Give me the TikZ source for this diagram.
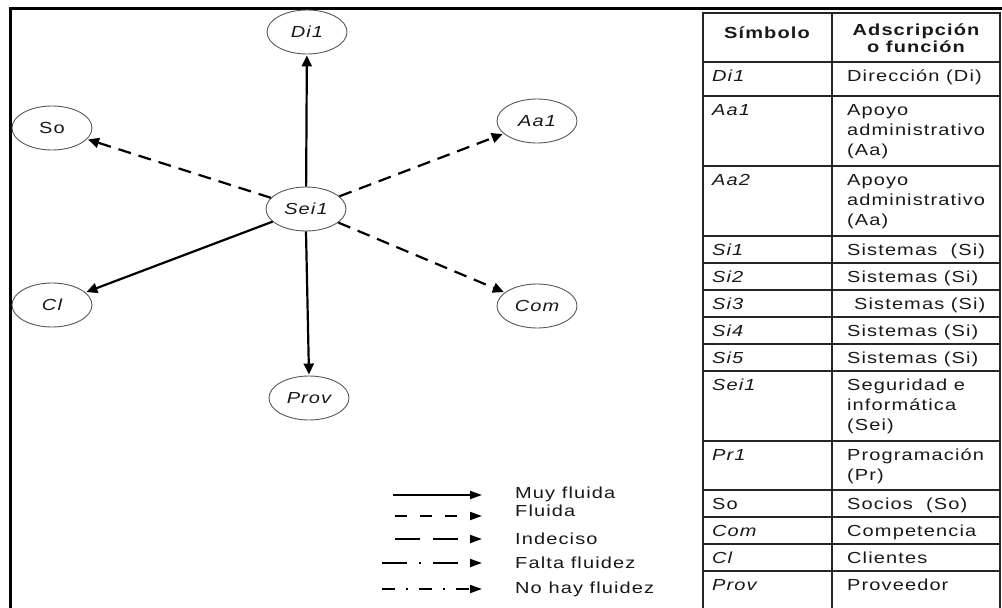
\documentclass[tikz,border=0pt]{standalone}
\usepackage{fontspec}
\setmainfont{Liberation Sans}[FakeStretch=1.25,LetterSpace=7]
\usetikzlibrary{arrows.meta,shapes.geometric}
\newcommand{\stt}{\rule{0pt}{12pt}}
\begin{document}
\begin{tikzpicture}[x=1pt,y=-1pt,
  txt/.style={font=\fontsize{16}{20}\selectfont, inner sep=0pt, text=black!90},
  ell/.style={ellipse, draw=black!65, line width=0.9pt, minimum width=80pt, minimum height=44pt, inner sep=0pt, font=\fontsize{16}{18}\selectfont\itshape, text=black!90},
  flow/.style={line width=2.2pt, black, -{Triangle[length=11pt,width=10pt]}, shorten >=1pt},
  fdash/.style={flow, dash pattern=on 13pt off 8pt},
  leg/.style={line width=1.8pt, black, -{Triangle[length=12pt,width=8pt]}},
  tab/.style={line width=1.2pt, black!85},
  sym/.style={txt, anchor=north west, font=\fontsize{16}{20}\selectfont\itshape},
  dsc/.style={txt, anchor=north west, align=left},
  lab/.style={txt, anchor=west}
]
\useasboundingbox (0,0) rectangle (1002,608);
\fill[white] (0,0) rectangle (1002,608);
% outer frame
\draw[line width=3pt, line join=miter] (10,608) -- (10,8) -- (1002,8);

% diagram nodes
\node[ell] (di)   at (307,32)  {Di1};
\node[ell, font=\fontsize{16}{18}\selectfont] (so) at (52,128) {So};
\node[ell] (aa)   at (537,121) {Aa1};
\node[ell] (sei)  at (306,209) {Sei1};
\node[ell] (cl)   at (52,305)  {Cl};
\node[ell] (com)  at (537,306) {Com};
\node[ell] (prov) at (309,398) {Prov};

\draw[flow]  (sei) -- (di);
\draw[fdash] (sei) -- (so);
\draw[fdash] (sei) -- (aa);
\draw[fdash] (sei) -- (com);
\draw[flow]  (sei) -- (cl);
\draw[flow]  (sei.south) -- (prov.north);

% legend
\coordinate (l1a) at (393,495); \coordinate (l1b) at (482,495);
\coordinate (l2a) at (395,516); \coordinate (l2b) at (482,516);
\coordinate (l3a) at (395,539); \coordinate (l3b) at (482,539);
\coordinate (l4a) at (382,563); \coordinate (l4b) at (482,563);
\coordinate (l5a) at (382,589); \coordinate (l5b) at (482,589);
\draw[leg] (l1a) -- (l1b);
\draw[leg, dash pattern=on 12pt off 13pt] (l2a) -- (l2b);
\draw[leg, dash pattern=on 25pt off 13pt] (l3a) -- (l3b);
\draw[leg, dash pattern=on 25pt off 12pt on 2pt off 12pt] (l4a) -- (l4b);
\draw[leg, dash pattern=on 13pt off 11pt on 2pt off 11pt] (l5a) -- (l5b);
\node[lab] (t1) at (515,494) {Muy fluida};
\node[lab] (t2) at (515,511) {Fluida};
\node[lab] (t3) at (515,539) {Indeciso};
\node[lab] (t4) at (515,563) {Falta fluidez};
\node[lab] (t5) at (515,589) {No hay fluidez};

% table grid
\draw[tab] (703,608) -- (703,13) -- (1000,13) -- (1000,608);
\draw[tab] (832,13) -- (832,608);
\foreach \yy in {62,96,166,236,263,290,317,344,371,441,490,517,544,571}
  \draw[tab] (703,\yy) -- (1000,\yy);

% header
\node[txt, font=\fontsize{16}{16}\selectfont\bfseries] (h1) at (767,33) {Símbolo};
\node[txt, font=\fontsize{16}{17}\selectfont\bfseries, align=center] (h2) at (916,38) {Adscripción\\o función};

% rows
\node[sym] (s1)  at (712,69)  {\stt Di1};
\node[dsc] (d1)  at (847,69)  {\stt Dirección (Di)};
\node[sym] (s2)  at (712,103) {\stt Aa1};
\node[dsc] (d2)  at (847,103) {\stt Apoyo\\administrativo\\(Aa)};
\node[sym] (s3)  at (712,173) {\stt Aa2};
\node[dsc] (d3)  at (847,173) {\stt Apoyo\\administrativo\\(Aa)};
\node[sym] (s4)  at (712,243) {\stt Si1};
\node[dsc] (d4)  at (847,243) {\stt Sistemas\ \ (Si)};
\node[sym] (s5)  at (712,270) {\stt Si2};
\node[dsc] (d5)  at (847,270) {\stt Sistemas (Si)};
\node[sym] (s6)  at (712,297) {\stt Si3};
\node[dsc] (d6)  at (854,297) {\stt Sistemas (Si)};
\node[sym] (s7)  at (712,324) {\stt Si4};
\node[dsc] (d7)  at (847,324) {\stt Sistemas (Si)};
\node[sym] (s8)  at (712,351) {\stt Si5};
\node[dsc] (d8)  at (847,351) {\stt Sistemas (Si)};
\node[sym] (s9)  at (712,378) {\stt Sei1};
\node[dsc] (d9)  at (847,378) {\stt Seguridad e\\informática\\(Sei)};
\node[sym] (s10) at (712,448) {\stt Pr1};
\node[dsc] (d10) at (847,448) {\stt Programación\\(Pr)};
\node[sym, font=\fontsize{16}{20}\selectfont] (s11) at (712,497) {\stt So};
\node[dsc] (d11) at (847,497) {\stt Socios\ \ (So)};
\node[sym] (s12) at (712,524) {\stt Com};
\node[dsc] (d12) at (847,524) {\stt Competencia};
\node[sym] (s13) at (712,551) {\stt Cl};
\node[dsc] (d13) at (847,551) {\stt Clientes};
\node[sym] (s14) at (712,578) {\stt Prov};
\node[dsc] (d14) at (847,578) {\stt Proveedor};
\end{tikzpicture}
\end{document}
